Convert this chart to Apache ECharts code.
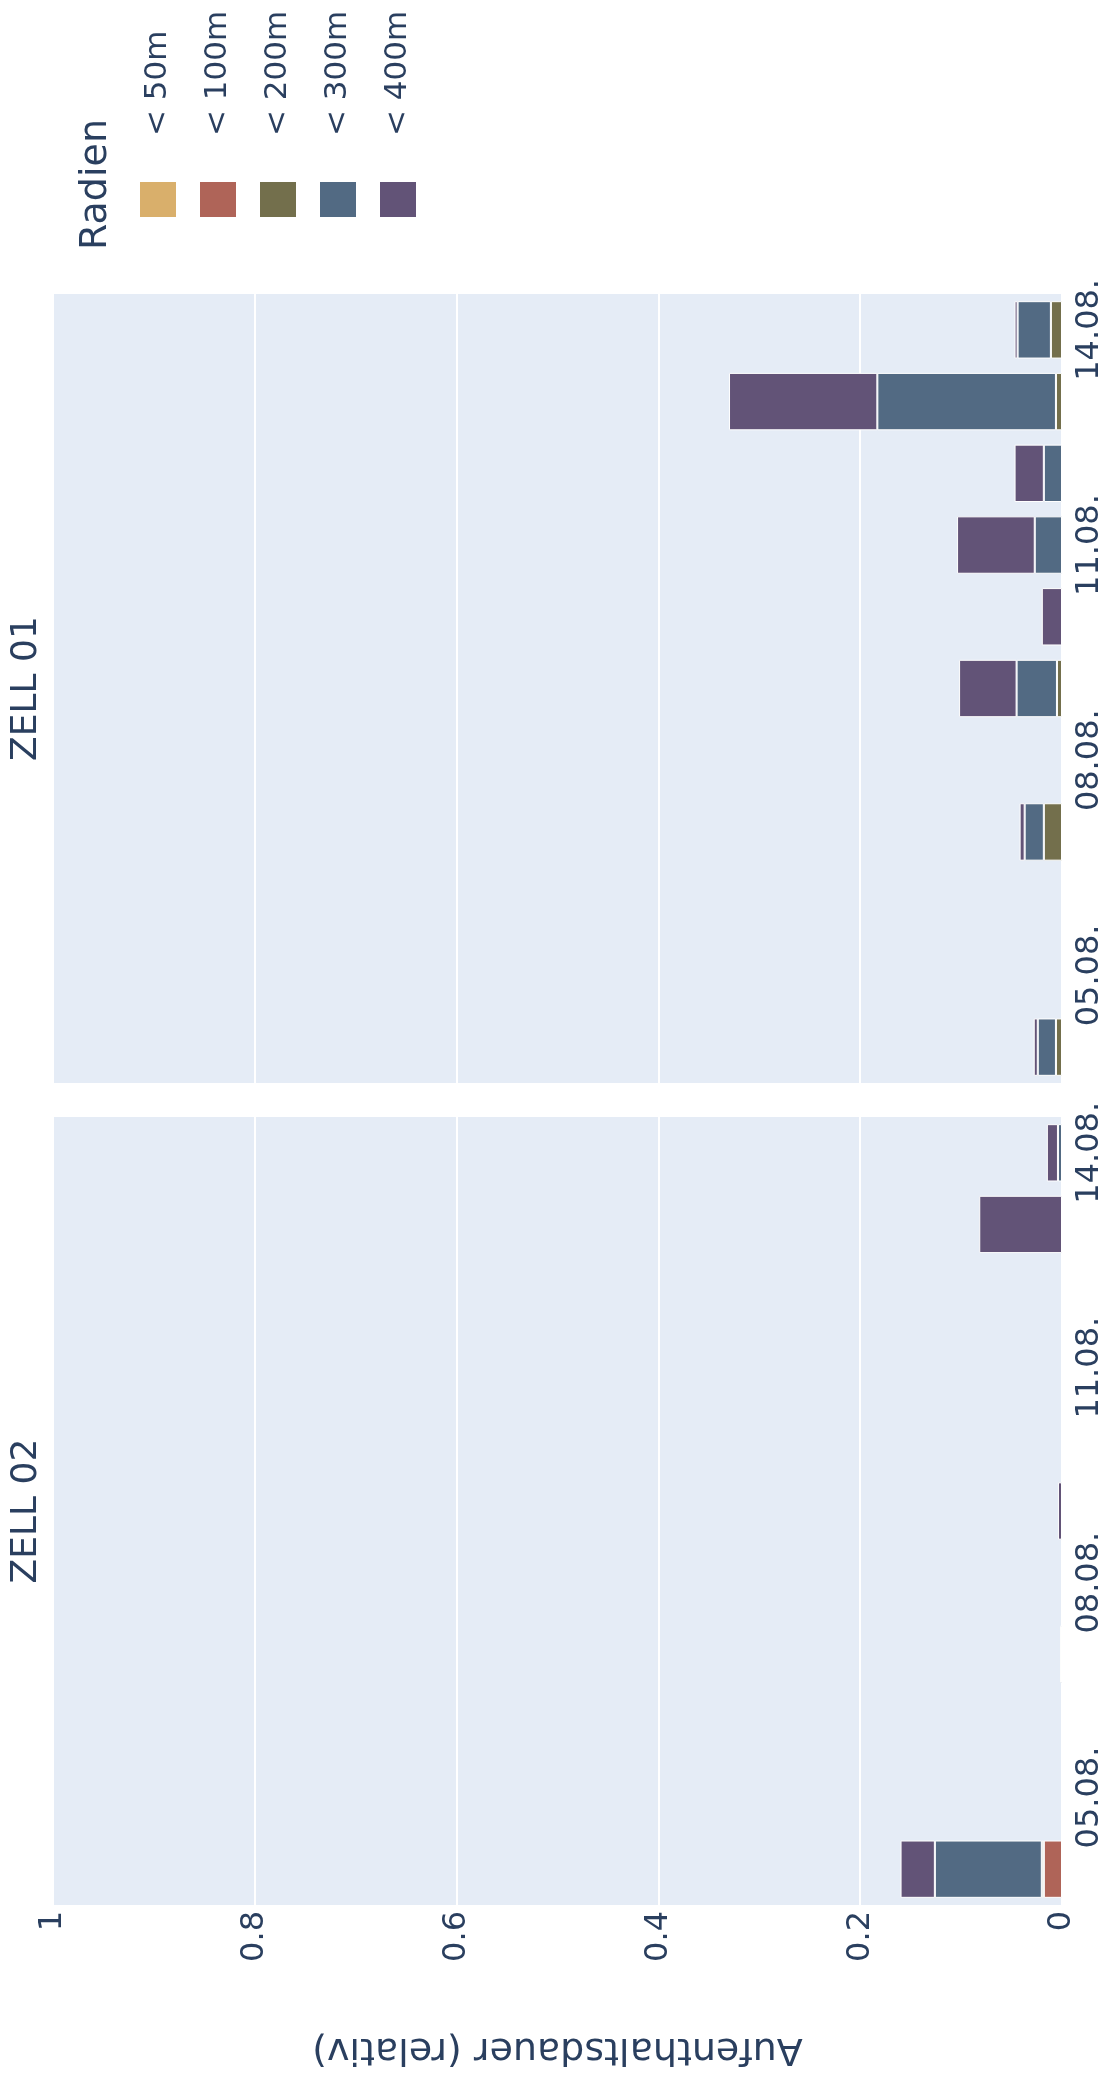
<!DOCTYPE html>
<html>
<head>
<meta charset="utf-8">
<script src="https://cdn.jsdelivr.net/npm/echarts@6/dist/echarts.min.js"></script>
<style>
html,body{margin:0;padding:0;background:#fff;}
#chart{width:1108px;height:2082px;}
</style>
</head>
<body>
<div id="chart"></div>
<script>
// ---------- data ----------
const days = ['04.08.','05.08.','06.08.','07.08.','08.08.','09.08.','10.08.','11.08.','12.08.','13.08.','14.08.'];
const tickDays = ['05.08.','08.08.','11.08.','14.08.'];
const radii = ['< 50m','< 100m','< 200m','< 300m','< 400m'];
const panels = ['ZELL 01','ZELL 02'];
const legendTitle = 'Radien';
const valueAxisTitle = 'Aufenthaltsdauer (relativ)';

// ZELL 01 (relative duration per day, per radius)
const zell01_lt50  = [0,     0, 0, 0,     0, 0,     0,     0,     0,     0,     0];
const zell01_lt100 = [0,     0, 0, 0,     0, 0,     0,     0,     0,     0,     0];
const zell01_lt200 = [0.006, 0, 0, 0.018, 0, 0.005, 0,     0,     0,     0.006, 0.011];
const zell01_lt300 = [0.018, 0, 0, 0.019, 0, 0.040, 0,     0.027, 0.018, 0.177, 0.033];
const zell01_lt400 = [0.004, 0, 0, 0.005, 0, 0.057, 0.020, 0.077, 0.029, 0.147, 0.003];

// ZELL 02
const zell02_lt50  = [0,     0, 0, 0,     0, 0,     0, 0, 0, 0,     0];
const zell02_lt100 = [0.018, 0, 0, 0,     0, 0,     0, 0, 0, 0,     0];
const zell02_lt200 = [0.002, 0, 0, 0,     0, 0,     0, 0, 0, 0,     0];
const zell02_lt300 = [0.106, 0, 0, 0.002, 0, 0,     0, 0, 0, 0,     0.004];
const zell02_lt400 = [0.034, 0, 0, 0,     0, 0.004, 0, 0, 0, 0.082, 0.011];

// ---------- styles ----------
const colors = ['rgb(217,175,107)','rgb(175,100,88)','rgb(115,111,76)','rgb(82,106,131)','rgb(98,83,119)'];
const textColor = '#2a3f5f';
const font = 'DejaVu Sans';

const panelData = [
  [zell01_lt50, zell01_lt100, zell01_lt200, zell01_lt300, zell01_lt400],
  [zell02_lt50, zell02_lt100, zell02_lt200, zell02_lt300, zell02_lt400]
];

const gridsPos = [
  {left:53, top:294, width:1009, height:789},
  {left:53, top:1117, width:1009, height:788}
];

const series = [];
panelData.forEach((pd, g) => {
  pd.forEach((vals, r) => {
    series.push({
      type:'bar', name: radii[r], xAxisIndex:g, yAxisIndex:g, stack:'s'+g,
      barCategoryGap:'20%',
      data: vals.map(v => v ? v : null),
      itemStyle:{color: colors[r], borderColor:'#fff', borderWidth:1}
    });
  });
});

const graphic = [];
// facet titles
panels.forEach((p, g) => {
  const gp = gridsPos[g];
  graphic.push({
    type:'text', x:27, y: gp.top + gp.height/2, rotation: Math.PI/2,
    style:{text:p, font:'36px "'+font+'"', fill:textColor, align:'center', verticalAlign:'middle'}
  });
});
// legend
graphic.push({
  type:'text', x:96, y:250, rotation: Math.PI/2,
  style:{text:legendTitle, font:'38px "'+font+'"', fill:textColor, align:'left', verticalAlign:'middle'}
});
radii.forEach((name, i) => {
  graphic.push({
    type:'rect', shape:{x:140 + 60*i, y:182, width:36, height:35},
    style:{fill:colors[i]}
  });
  graphic.push({
    type:'text', x:158 + 60*i, y:136, rotation: Math.PI/2,
    style:{text:name, font:'31px "'+font+'"', fill:textColor, align:'left', verticalAlign:'middle'}
  });
});

const option = {
  backgroundColor:'#fff',
  animation:false,
  textStyle:{fontFamily:font, color:textColor},
  grid: gridsPos.map(p => Object.assign({show:true, backgroundColor:'#E5ECF6', borderWidth:0}, p)),
  xAxis: [0,1].map(i => ({
    type:'value', gridIndex:i, min:0, max:1, interval:0.2, inverse:true,
    axisLine:{show:false}, axisTick:{show:false},
    splitLine:{show:true, lineStyle:{color:'#fff', width:2}},
    axisLabel:{show: i===1, rotate:90, fontSize:32, color:textColor, margin:6, fontFamily:font},
    name: i===1 ? valueAxisTitle : '',
    nameLocation:'middle', nameRotate:180, nameGap:125,
    nameTextStyle:{fontSize:38, color:textColor, fontFamily:font}
  })),
  yAxis: [0,1].map(i => ({
    type:'category', gridIndex:i, data:days, position:'right',
    axisLine:{show:false}, axisTick:{show:false}, splitLine:{show:false},
    axisLabel:{rotate:90, fontSize:32, color:textColor, margin:12, fontFamily:font,
      interval:(idx, val) => tickDays.indexOf(val) >= 0}
  })),
  series: series,
  graphic: graphic
};

const chart = echarts.init(document.getElementById('chart'));
chart.setOption(option);
</script>
</body>
</html>
